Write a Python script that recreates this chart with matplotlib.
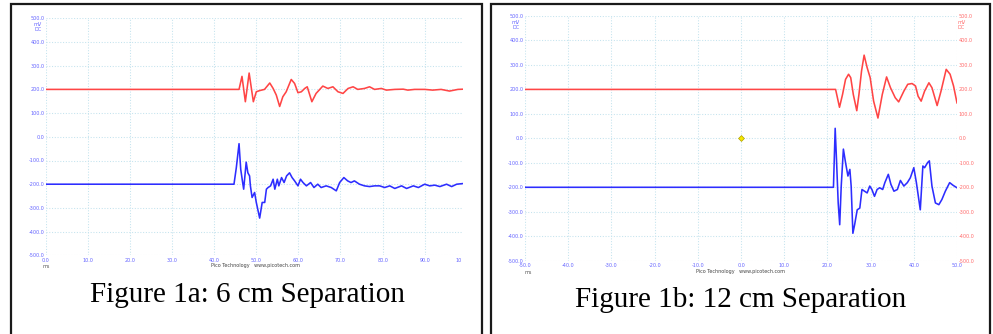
import matplotlib.pyplot as plt
from matplotlib.patches import Rectangle

# ---- data (time in ms, value in mV) ----
p1_red_t = [0, 45.9, 46.6, 47.4, 48.3, 49.3, 50.0, 50.8, 51.95, 53.2, 54.0,
            54.75, 55.55, 56.3, 57.1, 58.3, 59.1, 59.9, 60.7, 61.5, 62.1,
            63.2, 64.2, 65.8, 67.0, 68.2, 69.4, 70.6, 71.8, 73.0, 74.1,
            75.7, 76.9, 78.1, 79.7, 80.9, 82.9, 84.9, 86.0, 87.6, 90.0,
            91.9, 93.9, 95.9, 97.9, 99.3]
p1_red_v = [200, 200, 255, 148, 269, 148, 190, 195, 200, 227, 204,
            176, 128, 169, 190, 242, 225, 186, 190, 204, 211,
            148, 183, 214, 204, 211, 190, 183, 204, 211, 200,
            204, 211, 200, 204, 197, 200, 201, 197, 200, 200,
            197, 200, 193, 200, 201]

p1_blue_t = [0, 44.7, 45.25, 45.9, 46.3, 46.7, 47.0, 47.6, 48.0, 48.4,
             48.6, 49.0, 49.6, 50.0, 50.8, 51.4, 52.0, 52.4, 52.8, 53.4,
             54.0, 54.4, 55.0, 55.35, 56.0, 56.6, 57.2, 57.9, 58.5, 59.1,
             59.9, 60.5, 61.1, 61.9, 62.9, 63.7, 64.6, 65.4, 66.6, 67.8,
             69.0, 69.8, 70.8, 71.7, 72.5, 73.3, 74.5, 75.7, 76.9, 78.1,
             79.3, 80.5, 81.7, 82.9, 84.5, 85.7, 87.3, 88.5, 90.0, 91.2,
             92.4, 93.6, 95.2, 96.4, 97.6, 99.3]
p1_blue_v = [-200, -200, -131, -29, -137, -186, -221, -107, -152, -165,
             -207, -256, -235, -277, -343, -277, -277, -221, -214, -207,
             -179, -221, -179, -207, -172, -193, -165, -152, -172, -186,
             -207, -179, -193, -207, -193, -214, -200, -214, -207, -214,
             -228, -193, -172, -186, -193, -186, -200, -207, -210, -207,
             -207, -214, -207, -218, -207, -218, -207, -214, -200, -207,
             -204, -210, -200, -210, -200, -197]

p2_red_t = [-50, 21.9, 22.8, 23.5, 24.2, 24.9, 25.4, 26.0, 26.8, 27.3,
            27.9, 28.5, 29.2, 29.9, 30.7, 31.7, 32.7, 33.7, 34.6, 35.7,
            36.5, 37.7, 38.6, 39.6, 40.4, 41.0, 41.7, 42.5, 43.5, 44.2,
            45.4, 46.3, 47.5, 48.4, 49.2, 50.0]
p2_red_v = [200, 200, 127, 179, 241, 262, 248, 179, 113, 179,
            275, 340, 289, 248, 152, 83, 179, 251, 207, 166,
            149, 193, 221, 224, 214, 172, 152, 193, 227, 207,
            134, 193, 282, 262, 214, 145]

p2_blue_t = [-50, 21.4, 21.8, 22.1, 22.5, 22.85, 23.2, 23.7, 24.2, 24.75,
             25.2, 25.5, 25.9, 26.3, 26.9, 27.5, 28.0, 28.6, 29.2, 29.8,
             30.3, 30.9, 31.5, 32.1, 32.8, 33.3, 34.1, 34.7, 35.4, 36.2,
             36.9, 37.7, 38.5, 39.2, 40.0, 40.6, 41.5, 42.1, 42.5, 43.2,
             43.6, 44.2, 45.0, 45.8, 46.5, 47.3, 48.3, 49.1, 50.0]
p2_blue_v = [-200, -200, 41, -85, -264, -353, -195, -44, -99, -154,
             -127, -195, -388, -353, -292, -285, -209, -216, -223, -195,
             -209, -237, -209, -202, -209, -181, -147, -188, -216, -209,
             -172, -195, -181, -161, -120, -181, -292, -113, -120, -99,
             -92, -195, -264, -271, -250, -216, -181, -192, -202]

marker_t = [0.0]
marker_v = [0.0]

y_ticks = list(range(-500, 600, 100))
p1_x_ticks = list(range(0, 100, 10))
p2_x_ticks = list(range(-50, 60, 10))
captions = ["Figure 1a: 6 cm Separation", "Figure 1b: 12 cm Separation"]

W, H = 993, 334
RED = '#ff4545'
BLUE = '#2d2dff'
GRID = '#c4e3ee'
LBL_BLUE = '#6464ff'
LBL_RED = '#ff6a6a'
SMALL = 3.5
LW = 1.15


def fx(px):
    return px / W


def fy(py):
    return 1 - py / H


def scope_axes(fig, left, right, top, bottom):
    ax = fig.add_axes([fx(left), fy(bottom), (right - left) / W, (bottom - top) / H])
    for s in ax.spines.values():
        s.set_visible(False)
    ax.set_ylim(-500, 500)
    ax.set_yticks(y_ticks)
    ax.set_yticklabels(['%.1f' % v for v in y_ticks])
    ax.tick_params(length=0, pad=1, labelsize=SMALL, colors=LBL_BLUE)
    ax.grid(color=GRID, linestyle=':', linewidth=0.75)
    ax.set_axisbelow(True)
    return ax


fig = plt.figure(figsize=(W / 100, H / 100), dpi=100)

# panel borders
for x0, x1 in [(11, 482), (491, 990)]:
    fig.patches.append(Rectangle((fx(x0), fy(345)), (x1 - x0) / W, (345 - 4) / H,
                                 transform=fig.transFigure, fill=False,
                                 edgecolor='#1a1a1a', linewidth=1.6))

# ---- Figure 1a ----
ax1 = scope_axes(fig, 45.8, 463, 18.3, 255.3)
ax1.set_xlim(0, 99.1)
ax1.set_xticks(p1_x_ticks)
ax1.set_xticklabels(['%.1f' % v for v in p1_x_ticks])
ax1.tick_params(axis='x', pad=2)
ax1.plot(p1_red_t, p1_red_v, color=RED, linewidth=LW, solid_joinstyle='round')
ax1.plot(p1_blue_t, p1_blue_v, color=BLUE, linewidth=LW, solid_joinstyle='round')
fig.text(fx(462), fy(260), '10', fontsize=SMALL, color=LBL_BLUE, ha='right', va='center')
fig.text(fx(42), fy(24), 'mV', fontsize=SMALL, color=LBL_BLUE, ha='right', va='center')
fig.text(fx(42), fy(29.5), 'DC', fontsize=SMALL, color=LBL_BLUE, ha='right', va='center')
fig.text(fx(46), fy(266), 'ms', fontsize=SMALL, color='#555555', ha='center', va='center')
fig.text(fx(255), fy(266), 'Pico Technology   www.picotech.com', fontsize=SMALL,
         color='#444444', ha='center', va='center')
fig.text(fx(247), fy(295), captions[0], fontsize=21, family='Liberation Serif',
         ha='center', va='center')

# ---- Figure 1b ----
ax2 = scope_axes(fig, 525, 957, 16, 260.7)
ax2.set_xlim(-50, 50)
ax2.set_xticks(p2_x_ticks)
ax2.set_xticklabels(['%.1f' % v for v in p2_x_ticks])
ax2.tick_params(axis='x', pad=2)
ax2.plot(p2_red_t, p2_red_v, color=RED, linewidth=LW, solid_joinstyle='round')
ax2.plot(p2_blue_t, p2_blue_v, color=BLUE, linewidth=LW, solid_joinstyle='round')
ax2.plot(marker_t, marker_v, marker='D', markersize=3, color='#f5e800',
         markeredgecolor='#b0a000', markeredgewidth=0.5, linestyle='none')
ax2r = ax2.twinx()
for s in ax2r.spines.values():
    s.set_visible(False)
ax2r.set_ylim(-500, 500)
ax2r.set_yticks(y_ticks)
ax2r.set_yticklabels(['%.1f' % v for v in y_ticks])
ax2r.tick_params(length=0, pad=1, labelsize=SMALL, colors=LBL_RED)
fig.text(fx(520), fy(22), 'mV', fontsize=SMALL, color=LBL_BLUE, ha='right', va='center')
fig.text(fx(520), fy(27.5), 'DC', fontsize=SMALL, color=LBL_BLUE, ha='right', va='center')
fig.text(fx(958), fy(22), 'mV', fontsize=SMALL, color=LBL_RED, ha='left', va='center')
fig.text(fx(958), fy(27.5), 'DC', fontsize=SMALL, color=LBL_RED, ha='left', va='center')
fig.text(fx(528), fy(272), 'ms', fontsize=SMALL, color='#555555', ha='center', va='center')
fig.text(fx(741), fy(272), 'Pico Technology   www.picotech.com', fontsize=SMALL,
         color='#444444', ha='center', va='center')
fig.text(fx(741), fy(300), captions[1], fontsize=21, family='Liberation Serif',
         ha='center', va='center')

fig.savefig('out.png', dpi=100)
